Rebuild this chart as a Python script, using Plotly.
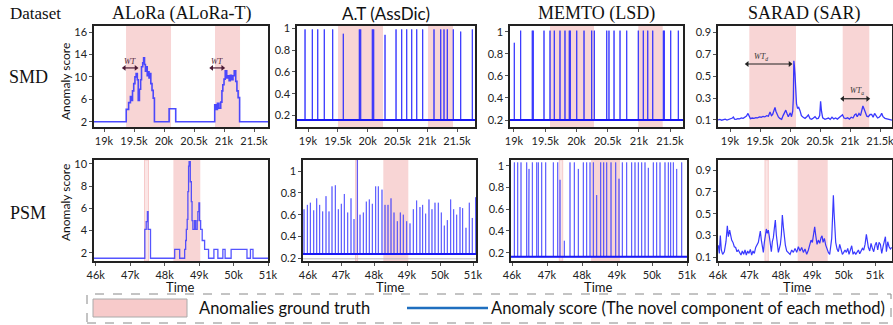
import plotly.graph_objects as go

W, H = 893, 325

# ---------------- tick labels ----------------
smd_xtick_vals = [19000, 19500, 20000, 20500, 21000, 21500]
smd_xtick_text = ["19k", "19.5k", "20k", "20.5k", "21k", "21.5k"]
psm_xtick_vals = [46000, 47000, 48000, 49000, 50000, 51000]
psm_xtick_text = ["46k", "47k", "48k", "49k", "50k", "51k"]
alora_smd_ytick_vals = [2, 6, 10, 14, 18]
alora_smd_ytick_text = ["2", "6", "10", "14", "16"]
alora_psm_ytick_vals = [2, 4, 6, 8, 10]
alora_psm_ytick_text = ["2", "4", "6", "8", "10"]
unit_ytick_vals = [0.2, 0.4, 0.6, 0.8, 1.0]
unit_ytick_text = ["0.2", "0.4", "0.6", "0.8", "1"]
sarad_ytick_vals = [0.1, 0.3, 0.5, 0.7, 0.9]
sarad_ytick_text = ["0.1", "0.3", "0.5", "0.7", "0.9"]

column_titles = ["ALoRa (ALoRa-T)", "A.T (AssDic)", "MEMTO (LSD)", "SARAD (SAR)"]
row_labels = ["SMD", "PSM"]

# ---------------- ground-truth anomaly windows ----------------
alora_smd_gt = [(19367, 20117), (20850, 21267)]
at_smd_gt = [(19503, 20258), (21013, 21433)]
memto_smd_gt = [(19577, 20282), (20992, 21383)]
sarad_smd_gt = [(19322, 20100), (20878, 21322)]
alora_psm_gt_thin = [(47416, 47532)]
alora_psm_gt = [(48254, 49035)]
at_psm_gt_thin = [(47441, 47502)]
at_psm_gt = [(48282, 49040)]
memto_psm_gt_thin = [(47351, 47448)]
memto_psm_gt = [(48257, 49086)]
sarad_psm_gt_thin = [(47497, 47601)]
sarad_psm_gt = [(48538, 49494)]

# ---------------- ALoRa (step series) ----------------
alora_smd_t = [18833, 19370, 19410, 19440, 19460, 19475, 19495, 19515, 19535, 19555, 19570, 19590,
               19610, 19625, 19645, 19660, 19675, 19690, 19705, 19720, 19735, 19750, 19765, 19780,
               19800, 19820, 19840, 20085, 20195, 20845, 20870, 20890, 20915, 20945, 20965, 20980,
               21000, 21020, 21045, 21065, 21085, 21105, 21125, 21150, 21170, 21195, 21215, 21235,
               21260, 21733]
alora_smd_v = [2, 4.2, 5.4, 6.5, 5.8, 7.5, 8.8, 10.0, 10.6, 9.5, 5.8, 7.8,
               9.5, 11.8, 12.5, 13.4, 12.2, 11.0, 11.8, 10.2, 10.9, 9.8, 10.6, 8.8,
               7.6, 6.2, 2, 4.3, 2, 5.0, 4.2, 5.3, 4.4, 5.5, 7.5, 8.6,
               9.6, 11.1, 9.8, 10.2, 9.3, 10.3, 9.5, 10.2, 11.1, 9.2, 7.5, 6.3,
               2, 2]
alora_psm_t = [45950, 47425, 47465, 47500, 47520, 47590, 48292, 48437, 48581, 48610, 48630, 48655,
               48675, 48695, 48710, 48745, 48775, 48795, 48820, 48870, 48900, 48945, 48965, 48995,
               49015, 49045, 49090, 49160, 49275, 49430, 49545, 49690, 49755, 49930, 50390, 50490,
               50565, 51000]
alora_psm_v = [1.5, 4.1, 4.8, 5.7, 4.1, 1.5, 2.3, 1.5, 2.3, 3.1, 4.1, 5.0,
               7.5, 9.8, 10.2, 8.4, 6.6, 4.9, 4.1, 4.9, 4.1, 4.9, 5.7, 6.5,
               4.9, 4.1, 3.1, 2.3, 1.5, 2.3, 1.5, 2.3, 1.5, 2.3, 1.5, 2.3,
               1.5, 1.5]

# ---------------- A.T (spike series) ----------------
at_smd_base = 0.16
at_smd_t = [18950, 19072, 19163, 19273, 19414, 19592, 19861, 19884, 20079, 20102, 20292, 20477,
            20572, 20656, 20740, 20824, 20924, 21114, 21227, 21282, 21337, 21438, 21562, 21757]
at_smd_h = [0.99, 0.99, 0.99, 0.99, 0.99, 0.95, 0.99, 0.99, 0.99, 0.99, 0.94, 0.99,
            0.99, 0.99, 0.99, 0.99, 0.99, 0.99, 0.99, 0.99, 0.99, 0.99, 0.97, 0.99]
at_psm_base = 0.24
at_psm_floor = 0.195
at_psm_t = [45879, 45980, 46071, 46172, 46263, 46353, 46444, 46545, 46636, 46727, 46828, 46919,
            47010, 47101, 47202, 47303, 47394, 47495, 47576, 47677, 47767, 47858, 47949, 48050,
            48131, 48242, 48333, 48424, 48515, 48606, 48707, 48798, 48889, 48990, 49091, 49192,
            49292, 49393, 49474, 49565, 49666, 49757, 49848, 49949, 50040, 50131, 50222, 50323,
            50414, 50505, 50606, 50686, 50787, 50888, 50979, 51078]
at_psm_h = [0.65, 0.69, 0.71, 0.64, 0.75, 0.69, 0.63, 0.77, 0.63, 0.86, 0.87, 0.65,
            0.70, 0.79, 0.62, 0.75, 0.56, 1.20, 0.60, 0.62, 0.72, 0.74, 0.70, 0.86,
            0.86, 0.83, 0.69, 0.69, 0.75, 0.62, 0.54, 0.62, 0.60, 0.54, 0.52, 0.65,
            0.73, 0.67, 0.69, 0.61, 0.74, 0.65, 0.71, 0.71, 0.62, 0.50, 0.55, 0.74,
            0.65, 0.60, 0.67, 0.66, 0.48, 0.71, 0.57, 0.76]

# ---------------- MEMTO (spike series) ----------------
memto_smd_base = 0.2
memto_smd_t = [19005, 19107, 19293, 19309, 19481, 19577, 19646, 19737, 19817, 19886, 19902, 20005,
               20122, 20245, 20287, 20486, 20522, 20603, 20699, 20806, 20992, 21072, 21143, 21223,
               21393, 21409, 21511, 21633]
memto_smd_h = [0.90, 1.01, 1.01, 1.01, 1.01, 1.01, 1.01, 1.01, 1.01, 1.01, 1.01, 1.01,
               1.01, 1.01, 1.01, 1.01, 1.01, 1.01, 1.01, 1.01, 1.01, 1.01, 1.01, 1.01,
               1.01, 1.01, 1.01, 1.01]
memto_psm_base = 0.163
memto_psm_t = [46067, 46162, 46257, 46419, 46467, 46486, 46581, 46705, 46752, 46848, 46962, 47181,
               47305, 47371, 47495, 47657, 47781, 47895, 48038, 48133, 48229, 48324, 48419, 48533,
               48619, 48705, 48829, 48962, 49057, 49152, 49276, 49419, 49514, 49610, 49705, 49800,
               49895, 50038, 50133, 50229, 50371, 50467, 50533, 50610, 50705, 50848]
memto_psm_h = [1.03, 1.03, 1.03, 1.03, 0.21, 0.97, 1.03, 1.03, 1.03, 1.03, 1.03, 1.03,
               1.03, 0.87, 0.31, 1.03, 1.03, 0.97, 1.03, 1.03, 1.03, 1.03, 0.73, 1.03,
               1.03, 1.03, 1.03, 1.03, 0.88, 1.03, 1.03, 1.03, 1.03, 1.03, 1.03, 1.03,
               0.98, 1.03, 1.03, 1.03, 1.03, 1.03, 1.03, 1.03, 0.97, 1.03]

# ---------------- SARAD (continuous series) ----------------
sarad_smd_t = [18800, 18830, 18860, 18890, 18920, 18950, 18980, 19010, 19040, 19056, 19075, 19100,
               19130, 19160, 19190, 19220, 19250, 19275, 19300, 19320, 19340, 19370, 19400, 19430,
               19460, 19490, 19520, 19550, 19580, 19610, 19640, 19667, 19690, 19710, 19735, 19750,
               19765, 19785, 19806, 19830, 19861, 19885, 19905, 19930, 19950, 19972, 19990, 20005,
               20025, 20045, 20056, 20064, 20072, 20083, 20095, 20108, 20125, 20145, 20167, 20190,
               20220, 20250, 20280, 20306, 20335, 20361, 20390, 20417, 20445, 20472, 20495, 20510,
               20525, 20545, 20583, 20610, 20640, 20670, 20700, 20730, 20760, 20790, 20820, 20850,
               20875, 20900, 20930, 20960, 20990, 21020, 21050, 21080, 21100, 21120, 21150, 21175,
               21195, 21215, 21235, 21255, 21280, 21306, 21335, 21361, 21385, 21410, 21435, 21460,
               21485, 21510, 21528, 21550, 21583, 21610, 21640, 21670, 21700]
sarad_smd_v = [0.100, 0.105, 0.098, 0.102, 0.108, 0.100, 0.104, 0.112, 0.118, 0.127, 0.108, 0.106,
               0.112, 0.110, 0.118, 0.115, 0.125, 0.135, 0.160, 0.130, 0.112, 0.118, 0.115, 0.122,
               0.120, 0.128, 0.125, 0.132, 0.128, 0.140, 0.135, 0.172, 0.140, 0.150, 0.185, 0.215,
               0.180, 0.150, 0.128, 0.115, 0.106, 0.140, 0.170, 0.190, 0.160, 0.130, 0.150, 0.165,
               0.130, 0.180, 0.300, 0.640, 0.600, 0.520, 0.330, 0.250, 0.205, 0.215, 0.185, 0.140,
               0.125, 0.115, 0.130, 0.146, 0.112, 0.106, 0.118, 0.130, 0.112, 0.115, 0.140, 0.270,
               0.180, 0.120, 0.106, 0.112, 0.118, 0.106, 0.125, 0.110, 0.118, 0.108, 0.125, 0.135,
               0.148, 0.118, 0.112, 0.120, 0.108, 0.125, 0.118, 0.148, 0.155, 0.130, 0.160, 0.140,
               0.190, 0.228, 0.200, 0.160, 0.135, 0.130, 0.150, 0.150, 0.125, 0.160, 0.140, 0.118,
               0.125, 0.140, 0.162, 0.130, 0.115, 0.110, 0.106, 0.100, 0.098]
sarad_psm_t = [46010, 46042, 46074, 46106, 46148, 46201, 46254, 46297, 46329, 46371, 46403, 46435,
               46477, 46520, 46562, 46605, 46647, 46690, 46732, 46775, 46817, 46860, 46902, 46945,
               46987, 47030, 47072, 47115, 47157, 47200, 47242, 47285, 47316, 47348, 47380, 47412,
               47444, 47476, 47508, 47540, 47571, 47603, 47635, 47667, 47699, 47731, 47763, 47794,
               47826, 47858, 47890, 47922, 47954, 47986, 48017, 48049, 48081, 48113, 48145, 48187,
               48240, 48294, 48347, 48400, 48453, 48506, 48559, 48612, 48665, 48718, 48771, 48825,
               48878, 48920, 48963, 49005, 49048, 49079, 49111, 49154, 49196, 49239, 49281, 49313,
               49345, 49387, 49430, 49472, 49515, 49557, 49589, 49621, 49642, 49663, 49674, 49695,
               49716, 49748, 49791, 49833, 49876, 49918, 49961, 50003, 50046, 50088, 50131, 50173,
               50216, 50258, 50301, 50343, 50386, 50428, 50471, 50513, 50556, 50598, 50640, 50683,
               50725, 50757, 50789, 50832, 50874, 50917, 50959, 51002, 51044, 51086, 51129, 51172,
               51214, 51256, 51299, 51331, 51363, 51405, 51448, 51490, 51533]
sarad_psm_v = [0.210, 0.136, 0.300, 0.167, 0.127, 0.151, 0.243, 0.390, 0.289, 0.350, 0.304, 0.258,
               0.237, 0.197, 0.190, 0.151, 0.167, 0.136, 0.121, 0.158, 0.127, 0.167, 0.121, 0.158,
               0.136, 0.173, 0.121, 0.158, 0.136, 0.190, 0.218, 0.237, 0.289, 0.340, 0.258, 0.190,
               0.145, 0.237, 0.319, 0.360, 0.319, 0.350, 0.289, 0.197, 0.151, 0.243, 0.280, 0.365,
               0.441, 0.304, 0.197, 0.145, 0.182, 0.218, 0.304, 0.487, 0.380, 0.273, 0.212, 0.158,
               0.142, 0.127, 0.167, 0.145, 0.182, 0.145, 0.197, 0.158, 0.190, 0.145, 0.176, 0.127,
               0.167, 0.228, 0.258, 0.237, 0.319, 0.380, 0.304, 0.218, 0.258, 0.228, 0.280, 0.298,
               0.237, 0.273, 0.212, 0.167, 0.145, 0.127, 0.197, 0.273, 0.426, 0.610, 0.670, 0.517,
               0.365, 0.237, 0.176, 0.151, 0.218, 0.176, 0.127, 0.145, 0.167, 0.145, 0.182, 0.127,
               0.167, 0.206, 0.127, 0.151, 0.127, 0.151, 0.167, 0.133, 0.158, 0.182, 0.167, 0.218,
               0.310, 0.243, 0.190, 0.158, 0.228, 0.182, 0.151, 0.212, 0.237, 0.167, 0.237, 0.218,
               0.136, 0.197, 0.273, 0.289, 0.151, 0.243, 0.197, 0.176, 0.190]

# ---------------- WT annotations ----------------
alora_wt_spans = [(19338, 19533), (20795, 20978)]
alora_wt_level = 11.6
alora_wt_label_level = 12.8
sarad_wt_spans = [(19288, 20000), (20878, 21295)]
sarad_wt_levels = [0.611, 0.294]
sarad_wt_label_levels = [0.675, 0.365]
sarad_wt_label_x = [19520, 21110]
sarad_wt_labels = ["<i>WT<sub>d</sub></i>", "<i>WT<sub>a</sub></i>"]

# ---------------- styling ----------------
SANS = "Lato, Carlito, Calibri, sans-serif"
SERIF = "Liberation Serif, Times New Roman, serif"
PINK = "#F8D5D5"
THIN_PINK = "#FBE6E6"
LINE_BLUE = "rgba(45,45,255,0.85)"
BASE_BLUE = "rgb(25,25,245)"

fig = go.Figure()


def ax_names(i):
    return ("x" if i == 1 else f"x{i}"), ("y" if i == 1 else f"y{i}")


def spike_xy(ts, hs, base, x0, x1):
    xs, ys = [x0], [base]
    for t, h in zip(ts, hs):
        xs += [t, t, t]
        ys += [base, h, base]
    xs.append(x1)
    ys.append(base)
    return xs, ys


# panel geometry (pixel boxes) and axis ranges
panels = [
    dict(xd=(94, 268), yd=(26, 127), xr=[18833, 21733], yr=[1.05, 19.09],
         xt=(smd_xtick_vals, smd_xtick_text), yt=(alora_smd_ytick_vals, alora_smd_ytick_text)),
    dict(xd=(297, 475), yd=(26, 127), xr=[18815, 21802], yr=[0.096, 1.021],
         xt=(smd_xtick_vals, smd_xtick_text), yt=(unit_ytick_vals, unit_ytick_text)),
    dict(xd=(510, 683), yd=(26, 127), xr=[18936, 21708], yr=[0.137, 1.052],
         xt=(smd_xtick_vals, smd_xtick_text), yt=(unit_ytick_vals, unit_ytick_text)),
    dict(xd=(718, 892), yd=(26, 127), xr=[18800, 21700], yr=[0.036, 0.958],
         xt=(smd_xtick_vals, smd_xtick_text), yt=(sarad_ytick_vals, sarad_ytick_text)),
    dict(xd=(94, 268), yd=(160, 261), xr=[45950, 51000], yr=[1.25, 10.36],
         xt=(psm_xtick_vals, psm_xtick_text), yt=(alora_psm_ytick_vals, alora_psm_ytick_text)),
    dict(xd=(303, 476), yd=(160, 261), xr=[45848, 51091], yr=[0.175, 1.102],
         xt=(psm_xtick_vals, psm_xtick_text), yt=(unit_ytick_vals, unit_ytick_text)),
    dict(xd=(511, 687), yd=(160, 261), xr=[45971, 51000], yr=[0.124, 1.052],
         xt=(psm_xtick_vals, psm_xtick_text), yt=(unit_ytick_vals, unit_ytick_text)),
    dict(xd=(718, 892), yd=(160, 261), xr=[46000, 51541], yr=[0.066, 0.993],
         xt=(psm_xtick_vals, psm_xtick_text), yt=(sarad_ytick_vals, sarad_ytick_text)),
]

layout_axes = {}
for i, p in enumerate(panels, start=1):
    xn, yn = ax_names(i)
    common = dict(showline=True, mirror=True, linecolor="#222", linewidth=1.5,
                  ticks="outside", ticklen=3, tickwidth=1, tickcolor="#555",
                  showgrid=False, zeroline=False, automargin=False, ticklabeloverflow="allow",
                  tickfont=dict(family=SANS, size=11, color="#222"))
    layout_axes["xaxis" if i == 1 else f"xaxis{i}"] = dict(
        domain=[p["xd"][0] / W, p["xd"][1] / W], range=p["xr"], anchor=yn,
        tickvals=p["xt"][0], ticktext=p["xt"][1], **common)
    layout_axes["yaxis" if i == 1 else f"yaxis{i}"] = dict(
        domain=[1 - p["yd"][1] / H, 1 - p["yd"][0] / H], range=p["yr"], anchor=xn,
        tickvals=p["yt"][0], ticktext=p["yt"][1], **common)

shapes = []


def add_gt(i, spans, color, edge=None):
    xn, yn = ax_names(i)
    for a, b in spans:
        shapes.append(dict(type="rect", xref=xn, yref=f"{yn} domain", x0=a, x1=b, y0=0, y1=1,
                           fillcolor=color, line=dict(width=1 if edge else 0, color=edge or color),
                           layer="below"))


add_gt(1, alora_smd_gt, PINK)
add_gt(2, at_smd_gt, PINK)
add_gt(3, memto_smd_gt, PINK)
add_gt(4, sarad_smd_gt, PINK)
add_gt(5, alora_psm_gt_thin, THIN_PINK, "#F6CACA")
add_gt(5, alora_psm_gt, PINK)
add_gt(6, at_psm_gt_thin, THIN_PINK, "#F6CACA")
add_gt(6, at_psm_gt, PINK)
add_gt(7, memto_psm_gt_thin, THIN_PINK, "#F6CACA")
add_gt(7, memto_psm_gt, PINK)
add_gt(8, sarad_psm_gt_thin, THIN_PINK, "#F6CACA")
add_gt(8, sarad_psm_gt, PINK)


def add_line(i, xs, ys, color=LINE_BLUE, width=1.2, shape="linear"):
    xn, yn = ax_names(i)
    fig.add_trace(go.Scatter(x=xs, y=ys, mode="lines", xaxis=xn, yaxis=yn,
                             line=dict(color=color, width=width, shape=shape),
                             showlegend=False, hoverinfo="skip"))


def add_double_arrow(i, a, b, level, color):
    xn, yn = ax_names(i)
    fig.add_trace(go.Scatter(x=[a, b], y=[level, level], mode="lines+markers", xaxis=xn, yaxis=yn,
                             line=dict(color=color, width=1.2),
                             marker=dict(symbol=["triangle-left", "triangle-right"], size=5, color=color),
                             showlegend=False, hoverinfo="skip", cliponaxis=False))


# ALoRa
add_line(1, alora_smd_t, alora_smd_v, color="rgba(55,55,255,0.9)", width=1.6, shape="hv")
add_line(5, alora_psm_t, alora_psm_v, color="rgba(55,55,255,0.85)", width=1.3, shape="hv")

# A.T
xs, ys = spike_xy(at_smd_t, at_smd_h, at_smd_base, panels[1]["xr"][0], panels[1]["xr"][1])
add_line(2, xs, ys, width=1.0)
add_line(2, [panels[1]["xr"][0], panels[1]["xr"][1]], [at_smd_base, at_smd_base], color=BASE_BLUE, width=2)
add_line(6, [panels[5]["xr"][0], panels[5]["xr"][1]], [at_psm_floor, at_psm_floor], color="#BBBBBB", width=1)
xs, ys = spike_xy(at_psm_t, at_psm_h, at_psm_base, panels[5]["xr"][0], panels[5]["xr"][1])
add_line(6, xs, ys, color="rgba(60,60,255,0.65)", width=1.0)
add_line(6, [panels[5]["xr"][0], panels[5]["xr"][1]], [at_psm_base, at_psm_base], color=BASE_BLUE, width=2)

# MEMTO
xs, ys = spike_xy(memto_smd_t, memto_smd_h, memto_smd_base, panels[2]["xr"][0], panels[2]["xr"][1])
add_line(3, xs, ys, width=1.0)
add_line(3, [panels[2]["xr"][0], panels[2]["xr"][1]], [memto_smd_base, memto_smd_base], color=BASE_BLUE, width=2)
xs, ys = spike_xy(memto_psm_t, memto_psm_h, memto_psm_base, panels[6]["xr"][0], panels[6]["xr"][1])
add_line(7, xs, ys, color="rgba(60,60,255,0.65)", width=1.0)
add_line(7, [panels[6]["xr"][0], panels[6]["xr"][1]], [memto_psm_base, memto_psm_base], color=BASE_BLUE, width=2)

# SARAD
add_line(4, sarad_smd_t, sarad_smd_v, color="rgba(35,35,255,0.9)", width=1.3)
add_line(8, sarad_psm_t, sarad_psm_v, color="rgba(35,35,255,0.9)", width=1.2)

annotations = []


def note(x, y, text, font, xref="paper", yref="paper", xanchor="center", **kw):
    annotations.append(dict(x=x, y=y, xref=xref, yref=yref, text=text, showarrow=False,
                            xanchor=xanchor, yanchor="middle", font=font, **kw))


# WT arrows
for a, b in alora_wt_spans:
    add_double_arrow(1, a, b, alora_wt_level, "#4b1a35")
    note((a + b) / 2, alora_wt_label_level, "<i>WT</i>", dict(family=SERIF, size=8, color="#4b1a35"),
         xref="x", yref="y")
for (a, b), lvl, llvl, lx, lab in zip(sarad_wt_spans, sarad_wt_levels, sarad_wt_label_levels,
                                      sarad_wt_label_x, sarad_wt_labels):
    add_double_arrow(4, a, b, lvl, "#222")
    note(lx, llvl, lab, dict(family=SERIF, size=8, color="#333"), xref="x4", yref="y4")

# column titles
title_x = [181, 386, 596, 804]
title_fonts = [SERIF, SANS, SERIF, SERIF]
title_sizes = [18, 17, 18, 18]
for txt, cx, fam, sz in zip(column_titles, title_x, title_fonts, title_sizes):
    note(cx / W, 1 - 13 / H, txt, dict(family=fam, size=sz, color="#111"))
note(35 / W, 1 - 13 / H, "Dataset", dict(family=SERIF, size=17, color="#111"))
for lab, cy in zip(row_labels, [77, 213]):
    note(28 / W, 1 - cy / H, lab, dict(family=SERIF, size=18, color="#111"))
for cy in [82, 203]:
    note(65 / W, 1 - cy / H, "Anomaly score", dict(family=SANS, size=12, color="#111"), textangle=-90)
for cx in [180, 390, 598, 797]:
    note(cx / W, 1 - 287 / H, "Time", dict(family=SANS, size=13, color="#111"))

# legend box
shapes.append(dict(type="rect", xref="paper", yref="paper", x0=87 / W, x1=891 / W,
                   y0=1 - 323 / H, y1=1 - 294 / H, line=dict(color="#888", width=1, dash="dash"),
                   fillcolor="rgba(0,0,0,0)"))
shapes.append(dict(type="rect", xref="paper", yref="paper", x0=93 / W, x1=187 / W,
                   y0=1 - 317 / H, y1=1 - 299 / H, line=dict(color="#AAAAAA", width=1),
                   fillcolor="#F7CACA"))
shapes.append(dict(type="line", xref="paper", yref="paper", x0=407 / W, x1=488 / W,
                   y0=1 - 308 / H, y1=1 - 308 / H, line=dict(color="#1f6fbf", width=2.5)))
note(197 / W, 1 - 308 / H, "Anomalies ground truth", dict(family=SANS, size=16.5, color="#111"),
     xanchor="left")
note(489 / W, 1 - 308 / H, "Anomaly score (The novel component of each method)",
     dict(family=SANS, size=16.5, color="#111"), xanchor="left")

fig.update_layout(width=W, height=H, autosize=False, margin=dict(l=0, r=0, t=0, b=0, autoexpand=False),
                  paper_bgcolor="white", plot_bgcolor="white", showlegend=False,
                  shapes=shapes, annotations=annotations, **layout_axes)

fig.write_html("out.html", config={"displayModeBar": False},
               post_script="document.body.style.margin='0';document.body.style.overflow='hidden';")
